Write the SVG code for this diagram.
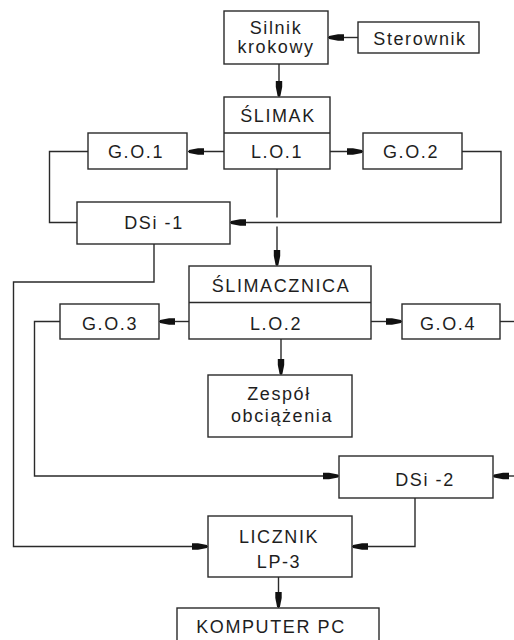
<svg xmlns="http://www.w3.org/2000/svg" width="514" height="640" viewBox="0 0 514 640">
<style>
.b{fill:#fff;stroke:#2a2a2a;stroke-width:1.4}
.t{font-family:"Liberation Sans",Arial,sans-serif;font-size:18px;fill:#1e1e1e;text-anchor:middle;letter-spacing:1.6px}
.c{fill:none;stroke:#2a2a2a;stroke-width:1.4}
.a{marker-end:url(#ah)}
</style>
<defs>
<marker id="ah" markerUnits="userSpaceOnUse" markerWidth="20" markerHeight="10" viewBox="0 -5 20 10" refX="16" refY="0" orient="auto">
<path d="M0,-3.2 L6,-3.2 L15,-1.4 L15,1.4 L6,3.2 L0,3.2 Z" fill="#111"/>
</marker>
</defs>
<rect width="514" height="640" fill="#fff"/>
<g id="connectors">
<line class="c a" x1="358" y1="37.5" x2="328" y2="37.5"/>
<line class="c a" x1="279" y1="64" x2="279" y2="97"/>
<line class="c a" x1="224" y1="151.5" x2="188" y2="151.5"/>
<line class="c a" x1="330" y1="151.5" x2="363" y2="151.5"/>
<polyline class="c" points="88,151.5 49.5,151.5 49.5,222.5 77,222.5"/>
<polyline class="c a" points="462,151.5 501,151.5 501,222.5 230,222.5"/>
<line class="c" x1="277" y1="169" x2="277" y2="217.5"/>
<line class="c a" x1="277" y1="226.5" x2="277" y2="266"/>
<polyline class="c a" points="154,244 154,282 13.5,282 13.5,546.5 208,546.5"/>
<line class="c a" x1="189" y1="321.5" x2="159" y2="321.5"/>
<line class="c a" x1="371" y1="321.5" x2="402" y2="321.5"/>
<polyline class="c a" points="60,321.5 34.5,321.5 34.5,476 339,476"/>
<line class="c" x1="500" y1="321.5" x2="514" y2="321.5"/>
<line class="c a" x1="514" y1="476" x2="493" y2="476"/>
<line class="c a" x1="281" y1="339" x2="281" y2="375"/>
<polyline class="c a" points="415,498 415,546.5 352,546.5"/>
<line class="c a" x1="278.5" y1="577" x2="278.5" y2="608"/>
</g>
<g id="silnik"><rect class="b" x="224" y="11" width="104" height="53"/><text class="t" x="276" y="34">Silnik</text><text class="t" x="276" y="53">krokowy</text></g>
<g id="sterownik"><rect class="b" x="358" y="22" width="121" height="31"/><text class="t" x="420" y="45">Sterownik</text></g>
<g id="slimak"><rect class="b" x="224" y="97" width="106" height="72"/><line class="c" x1="224" y1="133" x2="330" y2="133"/><text class="t" x="278" y="122">ŚLIMAK</text><text class="t" x="277" y="158">L.O.1</text></g>
<g id="go1"><rect class="b" x="88" y="133" width="99" height="36"/><text class="t" x="136" y="158">G.O.1</text></g>
<g id="go2"><rect class="b" x="363" y="133" width="99" height="36"/><text class="t" x="411" y="158">G.O.2</text></g>
<g id="dsi1"><rect class="b" x="77" y="202" width="153" height="42"/><text class="t" x="154" y="229">DSi -1</text></g>
<g id="slimacznica"><rect class="b" x="189" y="266" width="182" height="73"/><line class="c" x1="189" y1="302.5" x2="371" y2="302.5"/><text class="t" x="281" y="292">ŚLIMACZNICA</text><text class="t" x="276" y="330">L.O.2</text></g>
<g id="go3"><rect class="b" x="60" y="304" width="99" height="35"/><text class="t" x="110" y="330">G.O.3</text></g>
<g id="go4"><rect class="b" x="402" y="304" width="98" height="35"/><text class="t" x="448" y="330">G.O.4</text></g>
<g id="zespol"><rect class="b" x="208" y="375" width="144" height="62"/><text class="t" x="279" y="400">Zespół</text><text class="t" x="282" y="422">obciążenia</text></g>
<g id="dsi2"><rect class="b" x="339" y="456" width="154" height="42"/><text class="t" x="425" y="486">DSi -2</text></g>
<g id="licznik"><rect class="b" x="208" y="516" width="144" height="61"/><text class="t" x="279" y="543">LICZNIK</text><text class="t" x="279" y="568">LP-3</text></g>
<g id="komputer"><rect class="b" x="177" y="608" width="202" height="40"/><text class="t" x="271" y="633">KOMPUTER PC</text></g>
</svg>
